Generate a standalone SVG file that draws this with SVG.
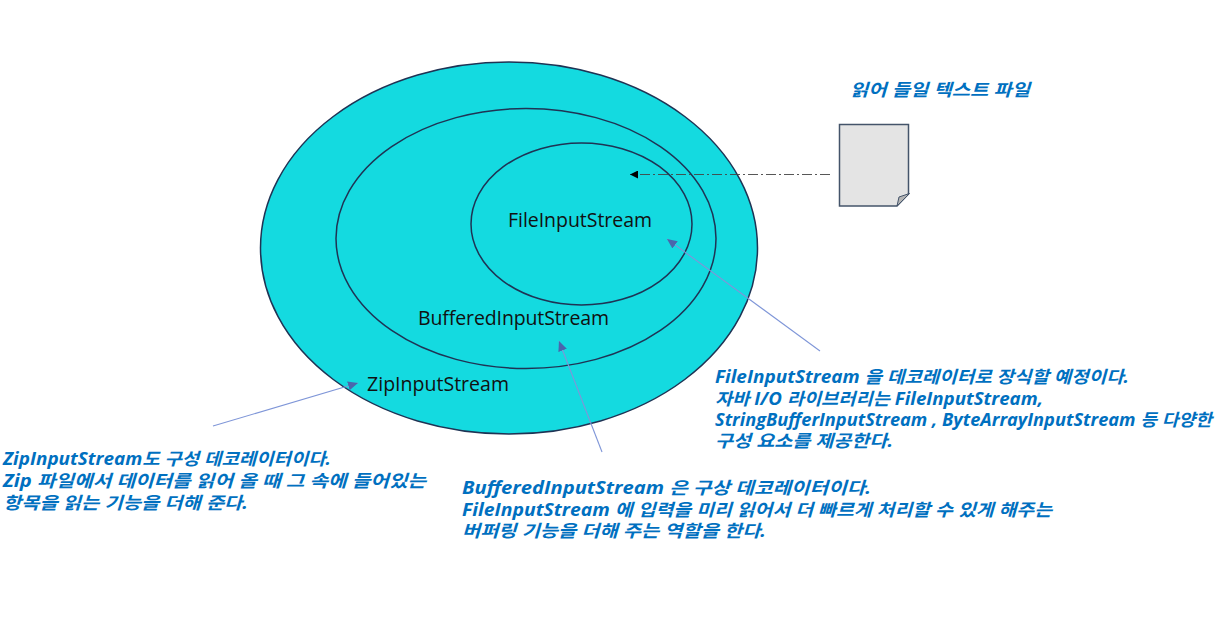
<svg xmlns="http://www.w3.org/2000/svg" width="1215" height="617" viewBox="0 0 1215 617">
<defs>
<marker id="blue" markerUnits="userSpaceOnUse" markerWidth="11" markerHeight="9" refX="10" refY="4.5" orient="auto"><path d="M0 0L10 4.5L0 9Z" fill="#4A66AC"/></marker>
<marker id="blk" markerUnits="userSpaceOnUse" markerWidth="9" markerHeight="8" refX="8" refY="4" orient="auto"><path d="M0 0L8 4L0 8Z" fill="#000"/></marker>
</defs>
<style>
.e{fill:#14DAE0;stroke:#1F3354;stroke-width:1.500}
.n{font:19.5px "Open Sans","Noto Sans CJK KR",sans-serif;fill:#111}
.c{font:italic 700 17px "Open Sans","Noto Sans CJK KR",sans-serif;fill:#0070C0}
.l{stroke:#7F96D8;stroke-width:1.100;fill:none;marker-end:url(#blue)}
</style>
<rect width="1215" height="617" fill="#fff"/>
<g id="zip"><ellipse class="e" cx="509" cy="248" rx="248.500" ry="186"/><text class="n" x="367" y="391" textLength="142">ZipInputStream</text></g>
<g id="buffered"><ellipse class="e" cx="526" cy="238.500" rx="190" ry="130"/><text class="n" x="418" y="325" textLength="191">BufferedInputStream</text></g>
<g id="file"><ellipse class="e" cx="581.500" cy="224" rx="110.500" ry="81"/><text class="n" x="508" y="227" textLength="144">FileInputStream</text></g>
<g id="doc">
<path d="M839.500 124.500H908.500V194L897 206H839.500Z" fill="#E4E4E4" stroke="#44546A" stroke-width="1.500"/>
<path d="M897 206L899 197L909.500 193.500Z" fill="#B5B5B5" stroke="#44546A" stroke-width="1"/>
</g>
<g id="connectors">
<path d="M830 174.500H630" fill="none" stroke="#444" stroke-width="0.900" stroke-dasharray="10 3 2 3" marker-end="url(#blk)"/>
<path class="l" d="M820 351L667 239"/>
<path class="l" d="M602 452L559 341"/>
<path class="l" d="M213 426L358 383"/>
</g>
<g id="caption-file"><text class="c" x="850" y="96" textLength="180" lengthAdjust="spacingAndGlyphs">읽어 들일 텍스트 파일</text></g>
<g id="caption-fis">
<text class="c" x="715" y="383" textLength="414" lengthAdjust="spacingAndGlyphs">FileInputStream 을 데코레이터로 장식할 예정이다.</text>
<text class="c" x="715" y="404.500" textLength="328" lengthAdjust="spacingAndGlyphs">자바 I/O 라이브러리는 FileInputStream,</text>
<text class="c" x="715" y="426" textLength="497" lengthAdjust="spacingAndGlyphs">StringBufferInputStream , ByteArrayInputStream 등 다양한</text>
<text class="c" x="715" y="447" textLength="178" lengthAdjust="spacingAndGlyphs">구성 요소를 제공한다.</text>
</g>
<g id="caption-bis">
<text class="c" x="462" y="493.500" textLength="409" lengthAdjust="spacingAndGlyphs">BufferedInputStream 은 구상 데코레이터이다.</text>
<text class="c" x="462" y="515.500" textLength="590" lengthAdjust="spacingAndGlyphs">FileInputStream 에 입력을 미리 읽어서 더 빠르게 처리할 수 있게 해주는</text>
<text class="c" x="462" y="537" textLength="304" lengthAdjust="spacingAndGlyphs">버퍼링 기능을 더해 주는 역할을 한다.</text>
</g>
<g id="caption-zis">
<text class="c" x="3" y="465" textLength="328" lengthAdjust="spacingAndGlyphs">ZipInputStream도 구성 데코레이터이다.</text>
<text class="c" x="3" y="487" textLength="423" lengthAdjust="spacingAndGlyphs">Zip 파일에서 데이터를 읽어 올 때 그  속에 들어있는</text>
<text class="c" x="3" y="509" textLength="245" lengthAdjust="spacingAndGlyphs">항목을 읽는 기능을 더해 준다.</text>
</g>
</svg>
